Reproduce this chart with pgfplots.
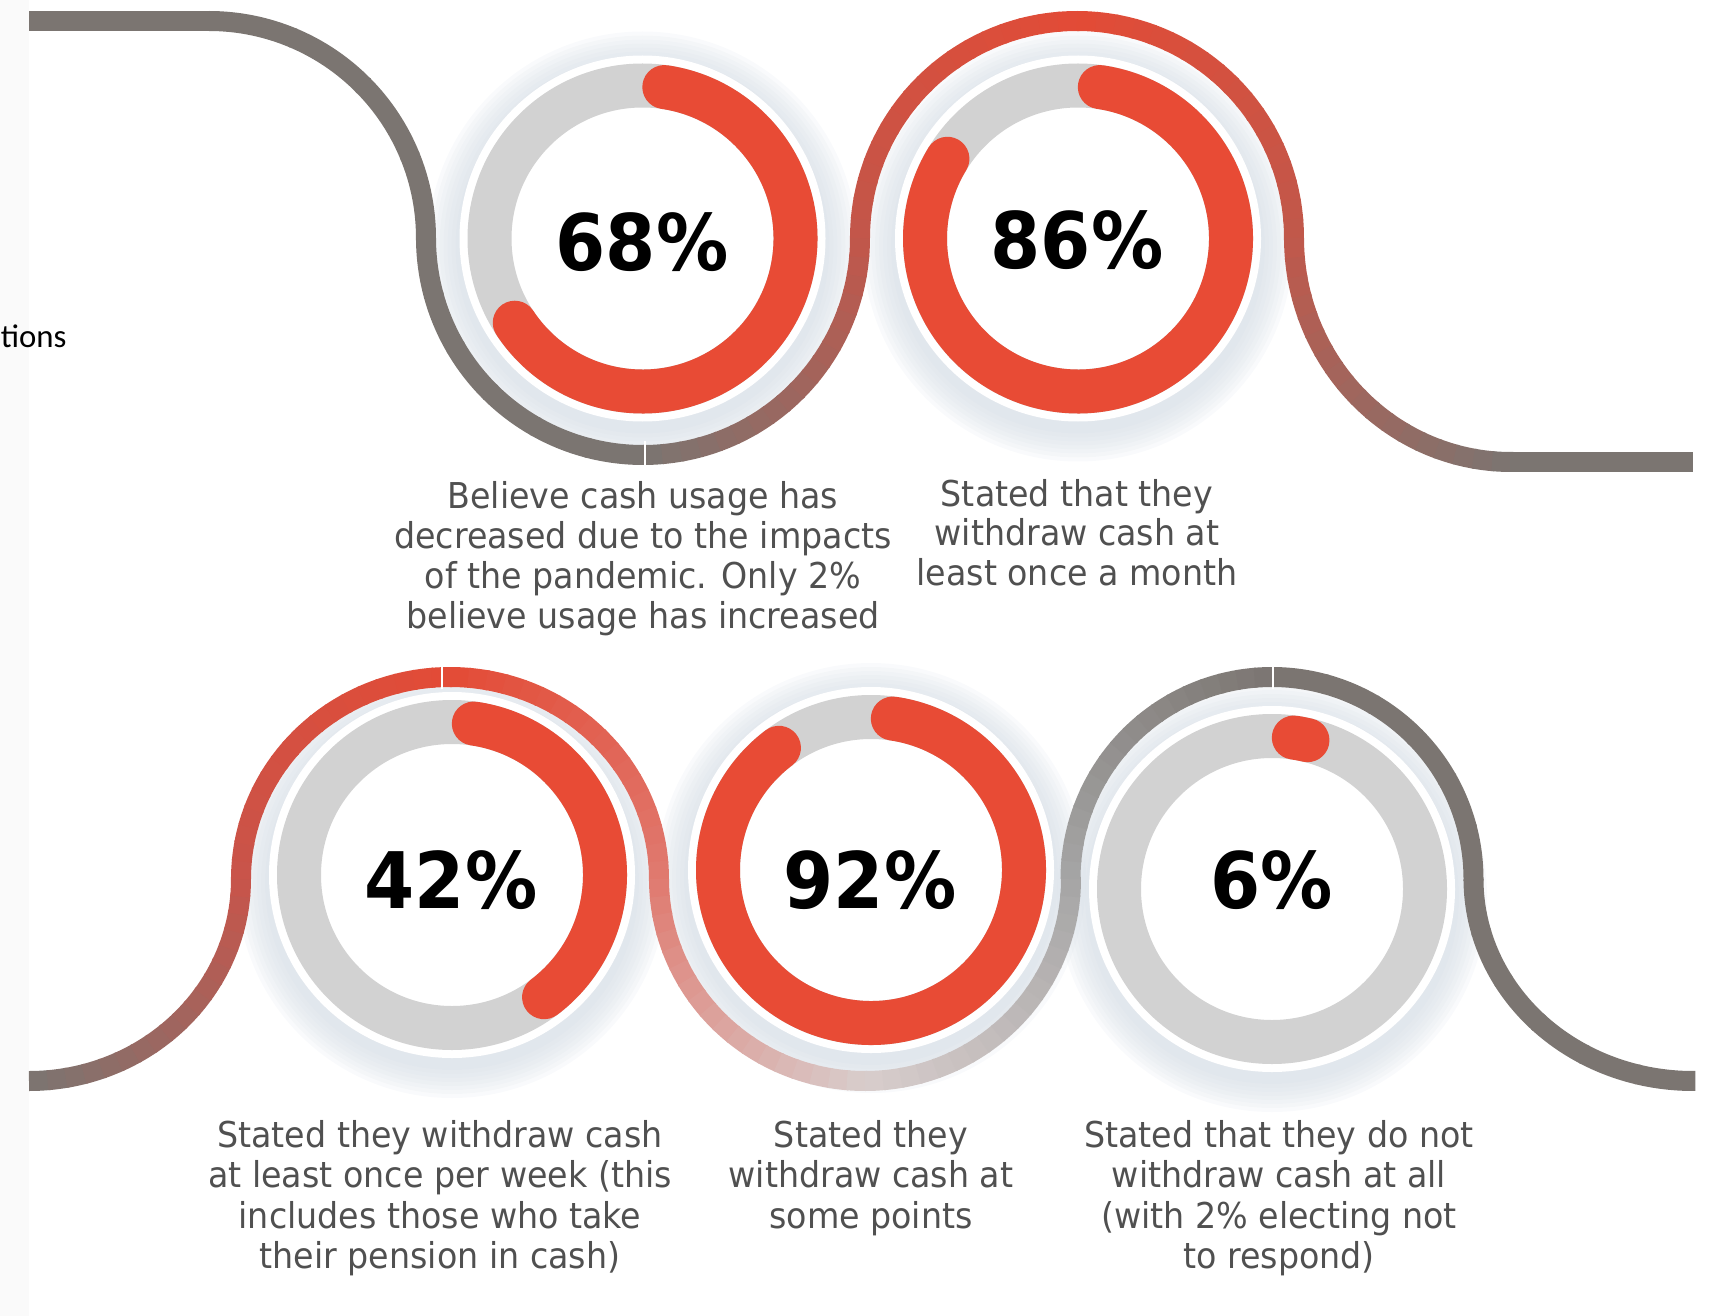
\documentclass[border=0pt]{standalone}
\usepackage{pgfplots}
\pgfplotsset{compat=1.18}
\usepackage{fontspec}
\setmainfont{DejaVu Sans}[FakeStretch=0.935]
\newfontfamily\pctfont{DejaVu Sans}[FakeStretch=0.925]
\newfontfamily\carlito{Carlito}
\definecolor{barred}{HTML}{E84B35}
\definecolor{ringgray}{HTML}{D2D2D2}
\definecolor{linegray}{HTML}{7B7571}
\definecolor{txtgray}{HTML}{505050}
\definecolor{shadowcol}{HTML}{D3DBE4}
\definecolor{leftstrip}{HTML}{FAFAFA}
\definecolor{wred}{HTML}{E34B36}
\definecolor{wbrownA}{HTML}{C2564A}
\definecolor{wbrownB}{HTML}{C0584B}
\definecolor{wbrownC}{HTML}{C8544A}
\definecolor{wpinkA}{HTML}{E07A70}
\definecolor{wpale}{HTML}{D8CDCC}
\definecolor{wgrayB}{HTML}{A5A5A5}
% gradient arc: cx cy rx ry a0 a1 colA colB N
\newcommand\garc[9]{%
  \foreach \i in {1,...,#9}{%
    \pgfmathsetmacro\sa{#5+(#6-(#5))*(\i-1)/#9}%
    \pgfmathsetmacro\ea{#5+(#6-(#5))*\i/#9+0.6*sign(#6-(#5))}%
    \pgfmathtruncatemacro\pp{100*(\i-0.5)/#9}%
    \pgfmathsetmacro\rx{#3*0.25}%
    \pgfmathsetmacro\ry{#4*0.25}%
    \edef\tmp{\noexpand\draw[line width=5pt, color=#8!\pp!#7] (axis cs:#1,#2) ++(\sa:\rx pt and \ry pt) arc[start angle=\sa, end angle=\ea, x radius=\rx pt, y radius=\ry pt];}%
    \tmp
  }%
}
\newcommand\dshadow[2]{%
  \foreach \k in {1,...,8}{%
    \pgfmathsetmacro\rr{(183+4*\k)*0.25}%
    \edef\tmp{\noexpand\fill[shadowcol, opacity=0.13] (axis cs:#1,#2) ++(0pt,-2pt) circle[radius=\rr pt];}%
    \tmp
  }%
}
% donut: cx cy pct baseline-of-label textx
\newcommand\donut[5]{%
  \fill[white] (axis cs:#1,#2) circle[radius=45.75pt];
  \draw[ringgray, line width=11pt] (axis cs:#1,#2) circle[radius=38.25pt];
  \pgfmathsetmacro\eang{98.2-3.6*#3}%
  \edef\tmp{\noexpand\draw[barred, line width=11pt, line cap=round] (axis cs:#1,#2) ++(81.8:38.25pt) arc[start angle=81.8, end angle=\eang, radius=38.25pt];}\tmp
  \node[anchor=base, inner sep=0pt, font=\pctfont\bfseries\fontsize{19.5}{20}\selectfont] at (axis cs:#5,#4) {#3\%};
}
\newcommand\capline[3]{\node[anchor=base, inner sep=0pt, text=txtgray, font=\fontsize{8.9}{9.4}\selectfont] at (axis cs:#1,#2) {#3};}
\begin{document}
\begin{tikzpicture}
\begin{axis}[x=0.25pt, y=0.25pt, xmin=0, xmax=1713, ymin=0, ymax=1316,
  y dir=reverse, hide axis, clip=false]
\path (axis cs:0,0) rectangle (axis cs:1713,1316);
\fill[leftstrip] (axis cs:0,0) rectangle (axis cs:29,1316);
\node[anchor=base west, inner sep=0pt, font=\carlito\fontsize{8.2}{9.6}\selectfont] at (axis cs:0,347) {tions};
% shadows
\dshadow{642.5}{238.5}
\dshadow{1078}{238.5}
\dshadow{452}{875}
\dshadow{871}{870}
\dshadow{1272}{889}
% top wave
\draw[linegray, line width=5pt] (axis cs:29,21) -- (axis cs:210,21);
\garc{209}{238}{217}{217}{90}{0}{linegray}{linegray}{4}
\garc{643}{238}{217}{217}{180}{270}{linegray}{linegray}{6}
\garc{643}{238}{217}{217}{270}{360}{linegray}{wbrownA}{18}
\garc{1077}{238}{217}{217}{180}{90}{wbrownA}{wred}{18}
\garc{1077}{238}{217}{217}{90}{0}{wred}{wbrownB}{18}
\garc{1511}{238}{217}{224}{180}{270}{wbrownB}{linegray}{18}
\draw[linegray, line width=5pt] (axis cs:1510,462) -- (axis cs:1693,462);
% bottom wave
\garc{29}{879}{212}{202}{270}{360}{linegray}{wbrownC}{18}
\garc{450}{879}{209}{202}{180}{90}{wbrownC}{wred}{18}
\garc{450}{879}{209}{202}{90}{0}{wred}{wpinkA}{18}
\garc{865}{879}{206}{202}{180}{270}{wpinkA}{wpale}{18}
\garc{865}{879}{206}{202}{270}{360}{wpale}{wgrayB}{18}
\garc{1272}{879}{201.5}{202}{180}{90}{wgrayB}{linegray}{18}
\garc{1272}{879}{201.5}{202}{90}{0}{linegray}{linegray}{6}
\garc{1693}{879}{219.5}{202}{180}{270}{linegray}{linegray}{6}
% seams
\draw[white, line width=0.4pt] (axis cs:645,441) -- (axis cs:645,466);
\draw[white, line width=0.4pt] (axis cs:442,665) -- (axis cs:442,689);
\draw[white, line width=0.4pt] (axis cs:1273,665) -- (axis cs:1273,689);
% donuts
\donut{642.5}{238.5}{68}{270}{642}
\donut{1078}{238.5}{86}{268}{1077}
\donut{452}{875}{42}{908}{451}
\donut{871}{870}{92}{908}{870}
\donut{1272}{889}{6}{908}{1272}
% captions
\capline{643}{508}{Believe cash usage has}
\capline{643}{548}{decreased due to the impacts}
\capline{643}{588}{of the pandemic. Only 2\%}
\capline{643}{628}{believe usage has increased}
\capline{1077}{506}{Stated that they}
\capline{1077}{545.5}{withdraw cash at}
\capline{1077}{585}{least once a month}
\capline{440}{1147}{Stated they withdraw cash}
\capline{440}{1187.5}{at least once per week (this}
\capline{440}{1228}{includes those who take}
\capline{440}{1268}{their pension in cash)}
\capline{871}{1147}{Stated they}
\capline{871}{1187.5}{withdraw cash at}
\capline{871}{1228}{some points}
\capline{1279}{1147}{Stated that they do not}
\capline{1279}{1187.5}{withdraw cash at all}
\capline{1279}{1228}{(with 2\% electing not}
\capline{1279}{1268}{to respond)}
\end{axis}
\end{tikzpicture}
\end{document}
